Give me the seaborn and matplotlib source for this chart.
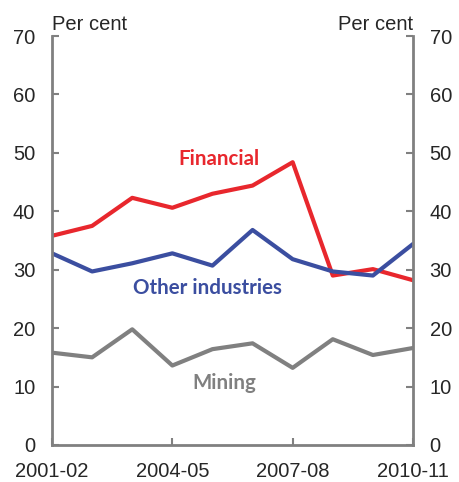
import matplotlib
matplotlib.use('Agg')
import matplotlib.pyplot as plt
import pandas as pd
import seaborn as sns

years = ['2001-02', '2002-03', '2003-04', '2004-05', '2005-06',
         '2006-07', '2007-08', '2008-09', '2009-10', '2010-11']
financial = [35.8, 37.5, 42.3, 40.6, 43.0, 44.4, 48.4, 29.0, 30.1, 28.2]
other_industries = [32.8, 29.7, 31.1, 32.8, 30.7, 36.8, 31.8, 29.7, 29.0, 34.4]
mining = [15.8, 15.0, 19.8, 13.6, 16.4, 17.4, 13.2, 18.1, 15.4, 16.6]
tick_years = ['2001-02', '2004-05', '2007-08', '2010-11']
y_ticks = [0, 10, 20, 30, 40, 50, 60, 70]

colours = {'Financial': '#e8272d', 'Other industries': '#3b4ea0', 'Mining': '#808080'}

sns.set_style('white')
plt.rcParams['font.family'] = ['Liberation Sans', 'DejaVu Sans']

df = pd.DataFrame({'Year': years * 3,
                   'pos': list(range(len(years))) * 3,
                   'value': financial + other_industries + mining,
                   'Series': ['Financial'] * 10 + ['Other industries'] * 10 + ['Mining'] * 10})

fig = plt.figure(figsize=(4.59, 4.82), dpi=100)
ax = fig.add_axes([0.1133, 0.0768, 0.7865, 0.8485])

sns.lineplot(data=df, x='pos', y='value', hue='Series', palette=colours,
             linewidth=3, legend=False, ax=ax)

spine_col = '#808080'
ax.set_xlim(0, len(years) - 1)
ax.set_ylim(0, 70)
ax.set_yticks(y_ticks)
ax.set_xticks([years.index(t) for t in tick_years])
ax.set_xticklabels(tick_years)
ax.set_xlabel('')
ax.set_ylabel('')

for s in ['left', 'right', 'bottom']:
    ax.spines[s].set_visible(True)
    ax.spines[s].set_color(spine_col)
    ax.spines[s].set_linewidth(2)
ax.spines['top'].set_visible(False)

ax.tick_params(axis='both', direction='in', length=5, width=1.5, color=spine_col,
               labelsize=14.5, pad=12, left=True, bottom=True, right=True,
               labelright=True)

ax.text(0, 1.005, 'Per cent', transform=ax.transAxes, ha='left', va='bottom', fontsize=14.5)
ax.text(1, 1.005, 'Per cent', transform=ax.transAxes, ha='right', va='bottom', fontsize=14.5)

lab = {'fontsize': 14.8, 'fontweight': 'bold', 'family': ['Lato', 'DejaVu Sans'],
       'ha': 'center', 'va': 'center'}
ax.text(4.17, 49.0, 'Financial', color=colours['Financial'], **lab)
ax.text(3.87, 26.8, 'Other industries', color=colours['Other industries'], **lab)
ax.text(4.3, 10.6, 'Mining', color=colours['Mining'], **lab)

fig.savefig('out.png', dpi=100)
